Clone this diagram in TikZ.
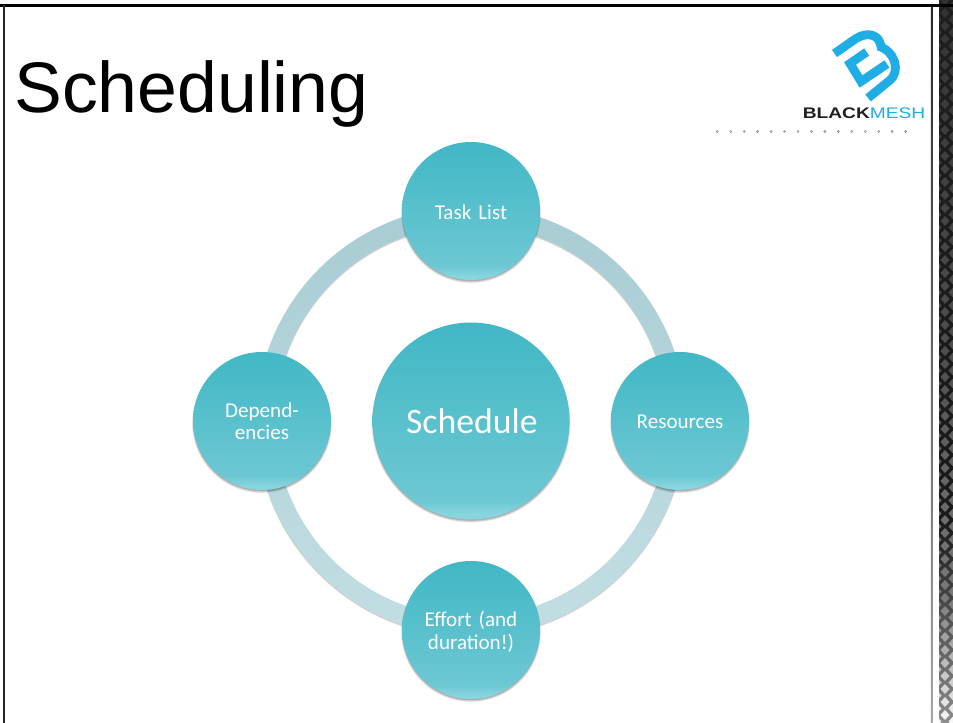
\documentclass[tikz,border=0pt]{standalone}
\usepackage{fontspec}
\usepackage{graphicx}
\setmainfont{Carlito}
\newfontfamily\titlefont{Liberation Sans}
\definecolor{ctop}{HTML}{41B7C5}
\definecolor{cmid}{HTML}{6CC8D3}
\definecolor{cend}{HTML}{86D5DF}
\definecolor{ringtop}{HTML}{A8CCD3}
\definecolor{ringbot}{HTML}{C2DEE3}
\definecolor{logoblue}{HTML}{1FADE6}
\definecolor{logodark}{HTML}{231F20}
\pgfdeclareverticalshading{discshade}{100bp}{color(0bp)=(cend); color(25bp)=(cend); color(26.5bp)=(cend); color(30bp)=(cmid); color(75bp)=(ctop); color(100bp)=(ctop)}
\pgfdeclareverticalshading{ringshade}{100bp}{color(0bp)=(ringbot); color(25bp)=(ringbot); color(75bp)=(ringtop); color(100bp)=(ringtop)}
\newcommand{\lowtext}[2]{\raisebox{-#1pt}[.62em][.22em]{#2}}
\tikzset{
  x=.75pt,y=-.75pt,
  disc/.style={circle,inner sep=0pt,shading=discshade,align=center,text=white,text width=130*.75pt},
  smalldisc/.style={disc,minimum size=138*.75pt,font=\fontsize{15.8}{17.2}\selectfont},
  bigdisc/.style={disc,minimum size=197*.75pt,font=\fontsize{26.8}{30}\selectfont},
  logostroke/.style={draw=logoblue,line width=6.6pt,line join=miter,line cap=butt}
}
\begin{document}
\begin{tikzpicture}
\useasboundingbox (0,0) rectangle (953,723);
\fill[white] (0,0) rectangle (953,723);
% side texture
\begin{scope}
\clip (939,0) rectangle (953,723);
\shade[top color=black!88,bottom color=black!90] (939,0) rectangle (953,520);
\shade[top color=black!90,bottom color=black!45] (939,520) rectangle (953,723);
\foreach \r in {0,...,112}{
  \pgfmathsetmacro{\yy}{\r*6.5}
  \pgfmathsetmacro{\xx}{mod(\r,2)==0 ? 945 : 937}
  \pgfmathsetmacro{\gr}{\yy<350 ? 80-\yy*0.03 : (\yy<600 ? 69.5-(\yy-350)*0.07 : 52-(\yy-600)*0.4)}
  \fill[black!\gr!white,shift={(\xx,\yy)}] (0,-5) -- (4.5,0) -- (0,5) -- (-4.5,0) -- cycle;
  \fill[black!\gr!white,shift={(\xx+16,\yy)}] (0,-5) -- (4.5,0) -- (0,5) -- (-4.5,0) -- cycle;
}
\end{scope}
% frame
\fill[black] (0,4.5) rectangle (953,7.5);
\fill[black!85] (2.8,5) rectangle (5,723);
\shade[top color=black!85,bottom color=black!35] (930.8,7) rectangle (932.6,723);
% title
\node[anchor=base west,inner sep=0pt,font=\titlefont\fontsize{53.7}{53.7}\selectfont] (title) at (14,113) {Scheduling};
% logo
\draw[logostroke] (834.5,53.5) -- (856,38.5) .. controls (868,31) and (880,35) .. (881,47);
\draw[logostroke] (878,46) .. controls (894,50) and (902,71) .. (889,81) -- (868,98);
\draw[logostroke] (866.7,52) -- (850,63.5) -- (861,81.5) -- (887,64);
\node[anchor=west,inner sep=0pt,font=\titlefont\fontsize{11.5}{11.5}\selectfont] (brand) at (802.5,113) {\scalebox{1.25}[1]{\textcolor{logodark}{\bfseries BLACK}\textcolor{logoblue}{MESH}}};
\foreach \i in {0,...,14}{
  \draw[black!45,line width=.35pt,fill=black!12] ({717.3+\i*13.45},131.5) circle[radius=1.1];
}
% ring shadow and ring
\fill[black,opacity=.18,even odd rule] (471,422.5) circle[radius=215] (471,422.5) circle[radius=196];
\shade[shading=ringshade,even odd rule] (471,421) circle[radius=215] (471,421) circle[radius=196];
% shadows
\foreach \cx/\cy/\rr in {471/211/69,680/421/69,471/630/69,262/421/69,471/421/98.5}{
  \fill[black,opacity=.07] (\cx,\cy+2) circle[radius=\rr+1];
  \fill[black,opacity=.12] (\cx,\cy+2) circle[radius=\rr+.3];
  \fill[black,opacity=.16] (\cx,\cy+1.5) circle[radius=\rr-.3];
}
% discs
\node[smalldisc] (task) at (471,211) {\lowtext{3}{Task List}};
\node[smalldisc] (res) at (680,421) {\lowtext{2.5}{Resources}};
\node[smalldisc] (effort) at (471,630) {\lowtext{2.5}{Effort (and}\\\lowtext{2.5}{duration!)}};
\node[smalldisc] (dep) at (262,421) {\lowtext{3}{Depend-}\\\lowtext{2}{encies}};
\node[bigdisc] (sched) at (471,421) {Schedule};
\end{tikzpicture}
\end{document}
